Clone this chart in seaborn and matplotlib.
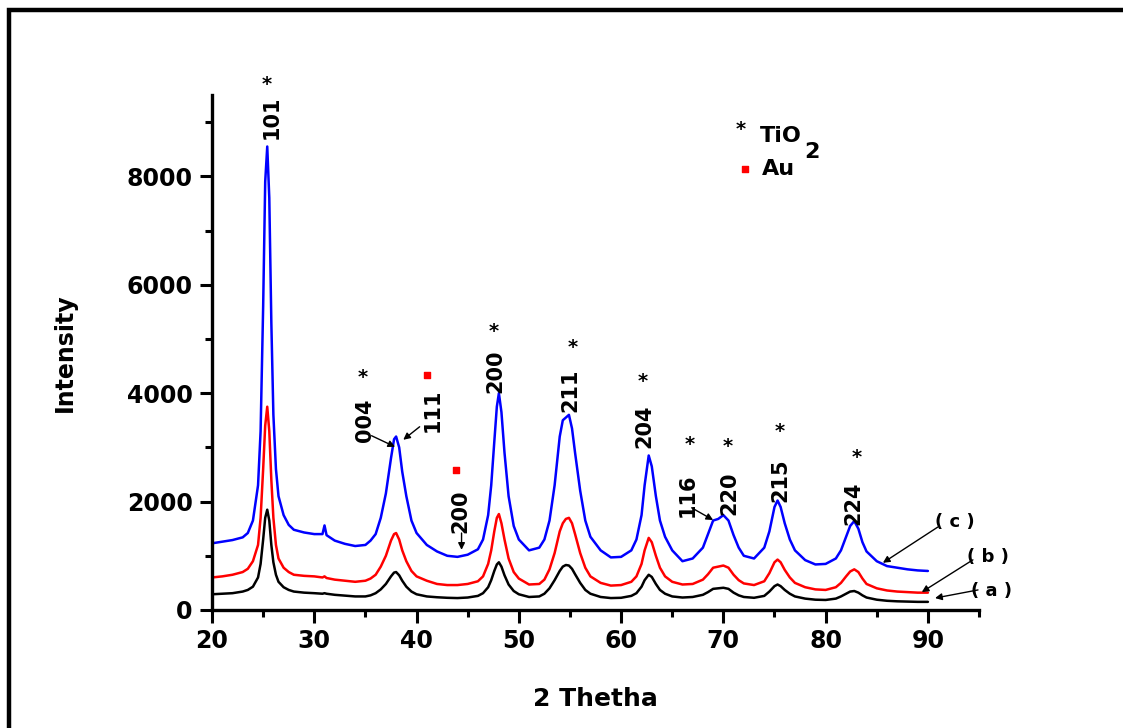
import numpy as np
import pandas as pd
import matplotlib
matplotlib.use("Agg")
import matplotlib.pyplot as plt
from matplotlib.patches import Rectangle
from matplotlib.ticker import MultipleLocator
import seaborn as sns

# ---------------- data ----------------
two_theta = [
    20, 21, 22, 23, 23.5, 24, 24.5, 24.75, 25, 25.2,
    25.4, 25.6, 25.8, 26, 26.25, 26.5, 27, 27.5, 28, 29,
    30, 30.8, 31, 31.2, 32, 33, 34, 35, 35.5, 36,
    36.5, 37, 37.5, 37.8, 38, 38.3, 38.6, 39, 39.5, 40,
    41, 42, 43, 44, 45, 46, 46.5, 47, 47.3, 47.6,
    47.85, 48.05, 48.3, 48.6, 49, 49.5, 50, 51, 52, 52.5,
    53, 53.5, 54, 54.3, 54.6, 54.9, 55.2, 55.5, 56, 56.5,
    57, 58, 59, 60, 61, 61.5, 62, 62.3, 62.7, 63,
    63.4, 63.8, 64.3, 65, 66, 67, 68, 68.5, 69, 69.5,
    70, 70.5, 71, 71.5, 72, 73, 74, 74.5, 75, 75.3,
    75.6, 76, 76.5, 77, 78, 79, 80, 81, 81.5, 82,
    82.4, 82.8, 83.2, 83.6, 84, 85, 86, 87, 88, 89,
    90,
]

intensity_c = [
    1230, 1260, 1290, 1340, 1420, 1650, 2300, 3300, 5600, 7900,
    8550, 7600, 5300, 3600, 2600, 2100, 1750, 1570, 1480, 1430,
    1400, 1400, 1560, 1380, 1280, 1220, 1180, 1200, 1280, 1400,
    1700, 2150, 2800, 3150, 3200, 3000, 2550, 2100, 1650, 1420,
    1200, 1080, 1000, 980, 1020, 1120, 1300, 1750, 2300, 3100,
    3750, 4000, 3650, 2900, 2100, 1550, 1300, 1100, 1150, 1300,
    1650, 2300, 3200, 3500, 3550, 3600, 3350, 2900, 2200, 1650,
    1350, 1100, 970, 980, 1100, 1300, 1750, 2300, 2850, 2650,
    2100, 1650, 1350, 1100, 900, 950, 1150, 1400, 1650, 1680,
    1750, 1650, 1380, 1150, 1000, 950, 1150, 1450, 1900, 2020,
    1900, 1600, 1300, 1100, 920, 840, 850, 950, 1100, 1350,
    1550, 1640, 1500, 1250, 1080, 900, 810, 780, 750, 730,
    720,
]

intensity_b = [
    600, 620, 650, 700, 760, 900, 1200, 1700, 2600, 3400,
    3750, 3300, 2400, 1700, 1200, 950, 780, 700, 650, 630,
    620, 600, 620, 590, 560, 540, 520, 540, 580, 650,
    800, 1000, 1280, 1400, 1420, 1300, 1100, 900, 720, 620,
    540, 480, 460, 460, 480, 530, 620, 850, 1100, 1450,
    1700, 1770, 1600, 1300, 950, 700, 580, 470, 480, 560,
    750, 1050, 1450, 1600, 1680, 1700, 1600, 1400, 1050, 780,
    620, 500, 450, 460, 520, 620, 850, 1100, 1330, 1250,
    1000, 780, 620, 520, 470, 480, 560, 660, 780, 800,
    820, 780, 650, 550, 490, 460, 530, 680, 880, 930,
    880, 740, 600, 500, 420, 380, 370, 420, 500, 620,
    710, 750, 700, 580, 480, 400, 360, 340, 330, 320,
    320,
]

intensity_a = [
    290, 300, 310, 340, 370, 430, 600, 850, 1300, 1700,
    1850, 1650, 1200, 880, 650, 520, 420, 370, 340, 320,
    310, 300, 310, 300, 280, 265, 250, 250, 270, 310,
    380, 480, 620, 690, 700, 640, 540, 430, 340, 290,
    250, 235, 225, 220, 230, 260, 310, 420, 550, 720,
    840, 880, 800, 640, 470, 350, 290, 240, 250, 300,
    400, 550, 720, 800, 830, 820, 760, 660, 500, 370,
    300, 240, 220, 225, 260, 310, 430, 550, 650, 610,
    480, 370, 300, 250, 230, 240, 280, 330, 390, 400,
    410, 390, 320, 270, 240, 225, 260, 340, 440, 470,
    440, 370, 300, 250, 210, 190, 185, 210, 250, 300,
    340, 350, 320, 270, 230, 190, 170, 160, 155, 150,
    150,
]

series_names = ["(a)", "(b)", "(c)"]
series_colors = ["#000000", "#FF0000", "#0000FF"]

x_ticks = [20, 30, 40, 50, 60, 70, 80, 90]
y_ticks = [0, 2000, 4000, 6000, 8000]

# ---------------- build long-form table ----------------
frames = []
for name, vals in zip(series_names, [intensity_a, intensity_b, intensity_c]):
    frames.append(pd.DataFrame({"2 Thetha": two_theta, "Intensity": vals, "sample": name}))
df = pd.concat(frames, ignore_index=True)

sns.set_style("ticks")
plt.rcParams["font.family"] = ["DejaVu Sans"]
plt.rcParams["font.weight"] = "bold"
for k in ["text.color", "axes.labelcolor", "xtick.color", "ytick.color", "axes.edgecolor"]:
    plt.rcParams[k] = "black"

fig = plt.figure(figsize=(11.23, 7.28), dpi=100)
ax = fig.add_axes([0.1888, 0.1621, 0.8718 - 0.1888, 0.8695 - 0.1621])

sns.lineplot(data=df, x="2 Thetha", y="Intensity", hue="sample",
             palette=dict(zip(series_names, series_colors)),
             estimator=None, sort=False, linewidth=1.8, legend=False, ax=ax)

ax.set_xlim(20, 95)
ax.set_ylim(0, 9500)
ax.set_xticks(x_ticks)
ax.set_yticks(y_ticks)
ax.xaxis.set_minor_locator(MultipleLocator(5))
ax.yaxis.set_minor_locator(MultipleLocator(1000))
ax.tick_params(which="major", direction="out", length=9, width=2.2, labelsize=17, pad=5)
ax.tick_params(which="minor", direction="out", length=5, width=2.2)
for lab in ax.get_xticklabels() + ax.get_yticklabels():
    lab.set_fontweight("bold")

for s in ["top", "right"]:
    ax.spines[s].set_visible(False)
for s in ["left", "bottom"]:
    ax.spines[s].set_linewidth(2.4)

ax.set_xlabel("2 Thetha", fontsize=18, fontweight="bold", labelpad=24)
ax.set_ylabel("Intensity", fontsize=17, fontweight="bold", labelpad=36)

# ---------------- peak annotations ----------------
lab_kw = dict(rotation=90, ha="center", va="bottom", fontsize=15, fontweight="bold", clip_on=False)
star_kw = dict(ha="center", va="center", fontsize=14, fontweight="bold", clip_on=False)

hkl_labels = [("101", 25.8, 8680), ("004", 35.0, 3100), ("111", 41.6, 3290),
              ("200", 47.7, 4010), ("211", 55.0, 3660), ("204", 62.3, 2990),
              ("116", 66.5, 1720), ("220", 70.6, 1755), ("215", 75.6, 2000),
              ("224", 82.75, 1570)]
for t, x, y in hkl_labels:
    ax.text(x, y, t, **lab_kw)
ax.text(44.25, 1420, "200", **lab_kw)

stars = [(25.3, 9700), (34.7, 4290), (47.5, 5140), (55.3, 4840), (62.1, 4210),
         (66.7, 3050), (70.45, 3010), (75.5, 3290), (83.05, 2810)]
for x, y in stars:
    ax.text(x, y, "*", **star_kw)

au_marks_x = [41.0, 43.85]
au_marks_y = [4340, 2590]
ax.scatter(au_marks_x, au_marks_y, marker="s", s=22, color="#FF0000", zorder=5, clip_on=False)

arr = dict(arrowstyle="-|>", color="black", lw=1.0, mutation_scale=10,
           shrinkA=0, shrinkB=0)
arrows = [((35.6, 3215), (37.9, 3010)), ((40.3, 3380), (38.7, 3140)),
          ((44.4, 1420), (44.4, 1110)), ((66.9, 1885), (69.0, 1660)),
          ((90.97, 1530), (85.6, 870)), ((94.4, 925), (89.4, 330)),
          ((94.9, 370), (90.7, 220))]
for (x0, y0), (x1, y1) in arrows:
    ax.annotate("", xy=(x1, y1), xytext=(x0, y0), arrowprops=arr, annotation_clip=False)

sample_lbl = [("( c )", 92.6, 1625), ("( b )", 95.85, 980), ("( a )", 96.25, 350)]
for t, x, y in sample_lbl:
    ax.text(x, y, t, ha="center", va="center", fontsize=13, fontweight="bold", clip_on=False)

# ---------------- in-plot key ----------------
ax.text(71.7, 8870, "*", ha="center", va="center", fontsize=14, fontweight="bold")
ax.text(73.6, 8740, "TiO", ha="left", va="center", fontsize=16, fontweight="bold")
ax.text(77.9, 8440, "2", ha="left", va="center", fontsize=16, fontweight="bold")
ax.scatter([72.1], [8130], marker="s", s=22, color="#FF0000", zorder=5)
ax.text(73.8, 8130, "Au", ha="left", va="center", fontsize=16, fontweight="bold")

# ---------------- outer frame ----------------
fw, fh = 1123, 728
fig.add_artist(Rectangle((9 / fw, -0.2), 1.3, 1 - 10 / fh + 0.2, transform=fig.transFigure,
                         fill=False, edgecolor="black", linewidth=3.2))

fig.savefig("out.png", dpi=100)
